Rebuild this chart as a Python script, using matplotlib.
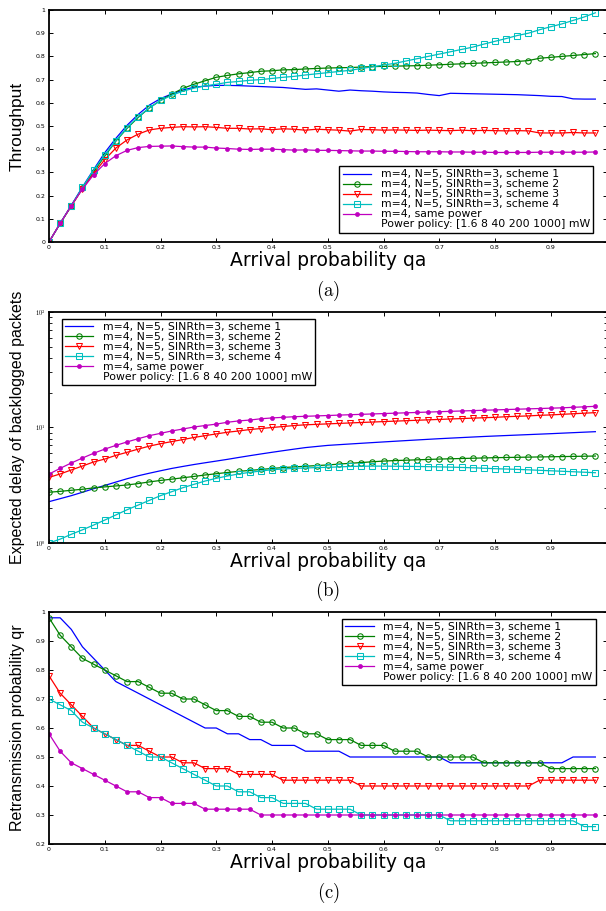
import numpy as np
import matplotlib
matplotlib.use("Agg")
import matplotlib.pyplot as plt
from matplotlib.lines import Line2D
from matplotlib.ticker import FixedLocator, LogLocator, NullFormatter

plt.rcParams['mathtext.fontset'] = 'cm'

qa = np.linspace(0, 0.98, 50)

labels = ["m=4, N=5, SINRth=3, scheme 1",
          "m=4, N=5, SINRth=3, scheme 2",
          "m=4, N=5, SINRth=3, scheme 3",
          "m=4, N=5, SINRth=3, scheme 4",
          "m=4, same power",
          "Power policy: [1.6 8 40 200 1000] mW"]

# ---- (a) Throughput ----
thr_s1 = [0, 0.08, 0.158, 0.237, 0.312, 0.385, 0.447, 0.503, 0.55, 0.59,
          0.618, 0.638, 0.655, 0.667, 0.672, 0.675, 0.675, 0.674, 0.672, 0.67,
          0.668, 0.666, 0.662, 0.658, 0.66, 0.655, 0.65, 0.655, 0.652, 0.65,
          0.647, 0.645, 0.644, 0.642, 0.636, 0.631, 0.641, 0.64, 0.639, 0.638,
          0.637, 0.636, 0.635, 0.633, 0.631, 0.628, 0.627, 0.617, 0.616, 0.616]
thr_s2 = [0, 0.08, 0.155, 0.232, 0.303, 0.37, 0.435, 0.49, 0.537, 0.578,
          0.61, 0.637, 0.662, 0.68, 0.695, 0.71, 0.718, 0.725, 0.73, 0.736,
          0.738, 0.742, 0.743, 0.746, 0.748, 0.75, 0.751, 0.752, 0.754, 0.756,
          0.757, 0.758, 0.759, 0.76, 0.762, 0.764, 0.766, 0.768, 0.77, 0.772,
          0.774, 0.776, 0.778, 0.782, 0.792, 0.796, 0.80, 0.804, 0.808, 0.812]
thr_s3 = [0, 0.08, 0.155, 0.23, 0.295, 0.355, 0.405, 0.44, 0.465, 0.483,
          0.49, 0.494, 0.497, 0.496, 0.497, 0.494, 0.49, 0.49, 0.487, 0.488,
          0.484, 0.488, 0.486, 0.482, 0.486, 0.484, 0.482, 0.478, 0.485, 0.484,
          0.482, 0.483, 0.482, 0.481, 0.482, 0.481, 0.48, 0.482, 0.48, 0.481,
          0.48, 0.479, 0.48, 0.479, 0.47, 0.47, 0.47, 0.472, 0.47, 0.47]
thr_s4 = [0, 0.08, 0.157, 0.235, 0.31, 0.375, 0.437, 0.493, 0.54, 0.578,
          0.61, 0.632, 0.65, 0.663, 0.673, 0.68, 0.688, 0.692, 0.697, 0.70,
          0.705, 0.71, 0.714, 0.72, 0.725, 0.73, 0.735, 0.74, 0.748, 0.755,
          0.763, 0.77, 0.78, 0.79, 0.80, 0.81, 0.82, 0.83, 0.84, 0.853,
          0.865, 0.877, 0.89, 0.90, 0.915, 0.928, 0.94, 0.955, 0.97, 0.988]
thr_same = [0, 0.08, 0.157, 0.228, 0.29, 0.338, 0.372, 0.395, 0.407, 0.412,
            0.413, 0.414, 0.411, 0.409, 0.409, 0.405, 0.403, 0.40, 0.399, 0.40,
            0.40, 0.398, 0.396, 0.397, 0.395, 0.395, 0.394, 0.393, 0.392, 0.392,
            0.391, 0.391, 0.39, 0.389, 0.389, 0.389, 0.388, 0.388, 0.387, 0.387,
            0.386, 0.386, 0.386, 0.386, 0.387, 0.387, 0.387, 0.387, 0.387, 0.388]

# ---- (b) Expected delay ----
del_s1 = [2.28, 2.42, 2.57, 2.75, 2.95, 3.15, 3.37, 3.6, 3.82, 4.02,
          4.22, 4.42, 4.6, 4.78, 4.95, 5.12, 5.3, 5.5, 5.7, 5.9,
          6.1, 6.3, 6.5, 6.7, 6.85, 7.0, 7.1, 7.2, 7.3, 7.4,
          7.5, 7.6, 7.7, 7.8, 7.9, 8.0, 8.09, 8.18, 8.27, 8.36,
          8.44, 8.52, 8.6, 8.68, 8.76, 8.84, 8.93, 9.02, 9.11, 9.2]
del_s2 = [2.75, 2.8, 2.86, 2.92, 3.0, 3.06, 3.12, 3.18, 3.27, 3.38,
          3.48, 3.57, 3.67, 3.77, 3.88, 3.98, 4.08, 4.17, 4.25, 4.33,
          4.42, 4.5, 4.56, 4.62, 4.68, 4.74, 4.82, 4.9, 4.97, 5.05,
          5.12, 5.17, 5.21, 5.25, 5.29, 5.33, 5.36, 5.39, 5.42, 5.45,
          5.48, 5.5, 5.52, 5.54, 5.56, 5.58, 5.6, 5.62, 5.64, 5.66]
del_s3 = [3.7, 3.96, 4.29, 4.64, 5.03, 5.33, 5.74, 6.1, 6.5, 6.9,
          7.24, 7.55, 7.86, 8.2, 8.5, 8.8, 9.1, 9.33, 9.6, 9.8,
          10.0, 10.2, 10.4, 10.55, 10.65, 10.75, 10.85, 10.95, 11.05, 11.15,
          11.25, 11.35, 11.45, 11.55, 11.65, 11.75, 11.85, 11.95, 12.05, 12.15,
          12.25, 12.4, 12.5, 12.6, 12.75, 12.85, 13.0, 13.15, 13.3, 13.45]
del_s4 = [1.0, 1.08, 1.19, 1.3, 1.43, 1.58, 1.75, 1.94, 2.13, 2.34,
          2.57, 2.78, 3.01, 3.22, 3.44, 3.63, 3.8, 3.96, 4.09, 4.2,
          4.31, 4.37, 4.43, 4.46, 4.5, 4.52, 4.56, 4.6, 4.62, 4.63,
          4.63, 4.62, 4.61, 4.6, 4.58, 4.56, 4.54, 4.51, 4.48, 4.44,
          4.4, 4.37, 4.34, 4.3, 4.26, 4.22, 4.18, 4.14, 4.1, 4.06]
del_same = [3.95, 4.43, 4.93, 5.44, 5.98, 6.5, 7.0, 7.5, 8.0, 8.5,
            8.9, 9.33, 9.7, 10.1, 10.4, 10.7, 11.1, 11.4, 11.6, 11.9,
            12.1, 12.25, 12.4, 12.5, 12.6, 12.7, 12.8, 12.9, 13.0, 13.1,
            13.2, 13.3, 13.4, 13.5, 13.6, 13.7, 13.8, 13.9, 14.0, 14.1,
            14.2, 14.3, 14.4, 14.5, 14.6, 14.7, 14.8, 14.95, 15.1, 15.25]

# ---- (c) Retransmission probability ----
qr_s1 = [0.98, 0.98, 0.94, 0.88, 0.84, 0.80, 0.76, 0.74, 0.72, 0.70,
         0.68, 0.66, 0.64, 0.62, 0.60, 0.60, 0.58, 0.58, 0.56, 0.56,
         0.54, 0.54, 0.54, 0.52, 0.52, 0.52, 0.52, 0.50, 0.50, 0.50,
         0.50, 0.50, 0.50, 0.50, 0.50, 0.50, 0.48, 0.48, 0.48, 0.48,
         0.48, 0.48, 0.48, 0.48, 0.48, 0.48, 0.48, 0.50, 0.50, 0.50]
qr_s2 = [0.98, 0.92, 0.88, 0.84, 0.82, 0.80, 0.78, 0.76, 0.76, 0.74,
         0.72, 0.72, 0.70, 0.70, 0.68, 0.66, 0.66, 0.64, 0.64, 0.62,
         0.62, 0.60, 0.60, 0.58, 0.58, 0.56, 0.56, 0.56, 0.54, 0.54,
         0.54, 0.52, 0.52, 0.52, 0.50, 0.50, 0.50, 0.50, 0.50, 0.48,
         0.48, 0.48, 0.48, 0.48, 0.48, 0.46, 0.46, 0.46, 0.46, 0.46]
qr_s3 = [0.78, 0.72, 0.68, 0.64, 0.60, 0.58, 0.56, 0.54, 0.54, 0.52,
         0.50, 0.50, 0.48, 0.48, 0.46, 0.46, 0.46, 0.44, 0.44, 0.44,
         0.44, 0.42, 0.42, 0.42, 0.42, 0.42, 0.42, 0.42, 0.40, 0.40,
         0.40, 0.40, 0.40, 0.40, 0.40, 0.40, 0.40, 0.40, 0.40, 0.40,
         0.40, 0.40, 0.40, 0.40, 0.42, 0.42, 0.42, 0.42, 0.42, 0.42]
qr_s4 = [0.70, 0.68, 0.66, 0.62, 0.60, 0.58, 0.56, 0.54, 0.52, 0.50,
         0.50, 0.48, 0.46, 0.44, 0.42, 0.40, 0.40, 0.38, 0.38, 0.36,
         0.36, 0.34, 0.34, 0.34, 0.32, 0.32, 0.32, 0.32, 0.30, 0.30,
         0.30, 0.30, 0.30, 0.30, 0.30, 0.30, 0.28, 0.28, 0.28, 0.28,
         0.28, 0.28, 0.28, 0.28, 0.28, 0.28, 0.28, 0.28, 0.26, 0.26]
qr_same = [0.58, 0.52, 0.48, 0.46, 0.44, 0.42, 0.40, 0.38, 0.38, 0.36,
           0.36, 0.34, 0.34, 0.34, 0.32, 0.32, 0.32, 0.32, 0.32, 0.30,
           0.30, 0.30, 0.30, 0.30, 0.30, 0.30, 0.30, 0.30, 0.30, 0.30,
           0.30, 0.30, 0.30, 0.30, 0.30, 0.30, 0.30, 0.30, 0.30, 0.30,
           0.30, 0.30, 0.30, 0.30, 0.30, 0.30, 0.30, 0.30, 0.30, 0.30]

xticks = [0, 0.1, 0.2, 0.3, 0.4, 0.5, 0.6, 0.7, 0.8, 0.9]
xticklabels = ["0", "0.1", "0.2", "0.3", "0.4", "0.5", "0.6", "0.7", "0.8", "0.9"]
yticks_a = [0, 0.1, 0.2, 0.3, 0.4, 0.5, 0.6, 0.7, 0.8, 0.9, 1]
yticklabels_a = ["0", "0.1", "0.2", "0.3", "0.4", "0.5", "0.6", "0.7", "0.8", "0.9", "1"]
yticks_c = [0.2, 0.3, 0.4, 0.5, 0.6, 0.7, 0.8, 0.9, 1]
yticklabels_c = ["0.2", "0.3", "0.4", "0.5", "0.6", "0.7", "0.8", "0.9", "1"]

C_BLUE = (0, 0, 1)
C_GREEN = (0, 0.5, 0)
C_RED = (1, 0, 0)
C_CYAN = (0, 0.75, 0.75)
C_MAG = (0.75, 0, 0.75)

W, H = 606, 911
fig = plt.figure(figsize=(W / 100, H / 100), dpi=100)

LBL_FONT = ['Liberation Sans Narrow', 'Liberation Sans', 'DejaVu Sans']


def make_axes(top_px, bot_px):
    left_px, right_px = 49, 606.5
    return fig.add_axes([left_px / W, (H - bot_px) / H,
                         (right_px - left_px) / W, (bot_px - top_px) / H])


def style(ax):
    for s in ax.spines.values():
        s.set_linewidth(1.3)
    ax.tick_params(direction='in', which='both', top=True, right=True,
                   labelsize=4.5, length=3, width=0.7, pad=2.5)
    ax.set_xlim(0, 1)
    ax.set_xticks(xticks)
    ax.set_xticklabels(xticklabels)
    ax.set_xlabel("Arrival probability qa", fontsize=13.5, family='DejaVu Sans')
    ax.xaxis.set_label_coords(0.5, -0.04)
    ax.xaxis.label.set_va('top')


def plot_series(ax, s1, s2, s3, s4, s5):
    h1, = ax.plot(qa, s1, '-', color=C_BLUE, lw=0.9)
    h2, = ax.plot(qa, s2, '-', color=C_GREEN, lw=0.9, marker='o', ms=3.9,
                  mfc='none', mec=C_GREEN, mew=0.75)
    h3, = ax.plot(qa, s3, '-', color=C_RED, lw=0.9, marker='v', ms=4.4,
                  mfc='none', mec=C_RED, mew=0.75)
    h4, = ax.plot(qa, s4, '-', color=C_CYAN, lw=0.9, marker='s', ms=3.7,
                  mfc='none', mec=C_CYAN, mew=0.75)
    h5, = ax.plot(qa, s5, '-', color=C_MAG, lw=0.9, marker='o', ms=2.9,
                  mfc=C_MAG, mec=C_MAG, mew=0.5)
    blank = Line2D([], [], linestyle='none')
    return [h1, h2, h3, h4, h5, blank]


def add_legend(ax, handles, loc, anchor):
    leg = ax.legend(handles, labels, loc=loc, bbox_to_anchor=anchor,
                    prop={'family': 'DejaVu Sans', 'size': 7.8},
                    handlelength=2.6, handletextpad=0.9, labelspacing=0.0,
                    borderpad=0.3, borderaxespad=0, fancybox=False,
                    framealpha=1, edgecolor='black', numpoints=1)
    leg.get_frame().set_linewidth(1.0)


# (a)
axa = make_axes(10, 242)
ha = plot_series(axa, thr_s1, thr_s2, thr_s3, thr_s4, thr_same)
style(axa)
axa.set_ylim(0, 1)
axa.set_yticks(yticks_a)
axa.set_yticklabels(yticklabels_a)
axa.set_ylabel("Throughput", fontsize=12.5, family=LBL_FONT)
axa.yaxis.set_label_coords(-0.043, 0.5)
add_legend(axa, ha, 'lower right', (0.976, 0.04))

# (b)
axb = make_axes(312, 543)
hb = plot_series(axb, del_s1, del_s2, del_s3, del_s4, del_same)
style(axb)
axb.set_yscale('log')
axb.set_ylim(1, 100)
axb.yaxis.set_major_locator(FixedLocator([1, 10, 100]))
axb.set_yticklabels([r'$10^0$', r'$10^1$', r'$10^2$'])
axb.yaxis.set_minor_locator(LogLocator(base=10, subs=np.arange(2, 10)))
axb.yaxis.set_minor_formatter(NullFormatter())
axb.tick_params(which='minor', length=2, width=0.6)
axb.set_ylabel("Expected delay of backlogged packets", fontsize=11.5, family=LBL_FONT)
axb.yaxis.set_label_coords(-0.043, 0.5)
add_legend(axb, hb, 'upper left', (0.023, 0.97))

# (c)
axc = make_axes(612, 844)
hc = plot_series(axc, qr_s1, qr_s2, qr_s3, qr_s4, qr_same)
style(axc)
axc.set_ylim(0.2, 1)
axc.set_yticks(yticks_c)
axc.set_yticklabels(yticklabels_c)
axc.set_ylabel("Retransmission probability qr", fontsize=11.5, family=LBL_FONT)
axc.yaxis.set_label_coords(-0.043, 0.5)
add_legend(axc, hc, 'upper right', (0.981, 0.97))

# captions
for lab, ypx in [("(a)", 291), ("(b)", 591), ("(c)", 893)]:
    fig.text(328 / W, 1 - ypx / H, r'$\mathrm{' + lab + '}$', fontsize=13.5,
             ha='center', va='center')

fig.savefig("out.png", dpi=100)
